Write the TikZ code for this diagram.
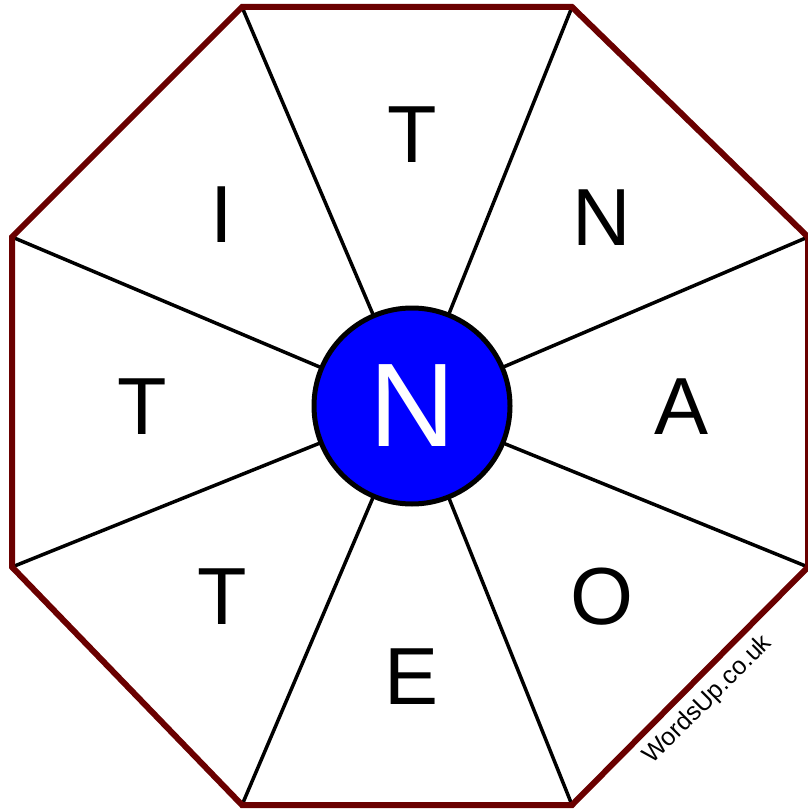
\documentclass[tikz,border=0pt]{standalone}
\usepackage{fontspec}
\setmainfont{Liberation Sans}
\definecolor{Rim}{HTML}{6A0000}
\definecolor{HubBlue}{HTML}{0000FF}
\tikzset{
  rim/.style={draw=Rim, line width=6pt, line join=miter},
  spoke/.style={draw=black, line width=3.5pt},
  hub/.style={
    circle, draw=black, line width=5pt, fill=HubBlue, text=white,
    minimum size=196pt, inner sep=0pt, font=\fontsize{119}{119}\selectfont
  },
  tile/.style={inner sep=0pt, font=\fontsize{81}{81}\selectfont},
  credit/.style={inner sep=0pt, rotate=45, font=\fontsize{25}{25}\selectfont}
}
\begin{document}
\begin{tikzpicture}[x=1pt,y=-1pt]
  \useasboundingbox (0,0) rectangle (807,810);
  % rim corners
  \coordinate (v1) at (242,7);
  \coordinate (v2) at (572,7);
  \coordinate (v3) at (808,237);
  \coordinate (v4) at (808,567);
  \coordinate (v5) at (572,805);
  \coordinate (v6) at (242,805);
  \coordinate (v7) at (12,567);
  \coordinate (v8) at (12,237);
  \coordinate (c) at (412,406);
  \foreach \i in {1,...,8}
    \draw[spoke] (c) -- (v\i);
  \draw[rim] (v1) -- (v2) -- (v3) -- (v4) -- (v5) -- (v6) -- (v7) -- (v8) -- cycle;
  \node[hub] (hub) at (c) {N};
  % outer letters
  \node[tile] (top) at (412,135) {T};
  \node[tile] (ne) at (602,218) {N};
  \node[tile] (east) at (682,407) {A};
  \node[tile] (se) at (602,597) {O};
  \node[tile] (bottom) at (412,677) {E};
  \node[tile] (sw) at (222,597) {T};
  \node[tile] (west) at (142,407) {T};
  \node[tile] (nw) at (222,215) {I};
  \node[credit] (site) at (708,700) {WordsUp.co.uk};
\end{tikzpicture}
\end{document}
